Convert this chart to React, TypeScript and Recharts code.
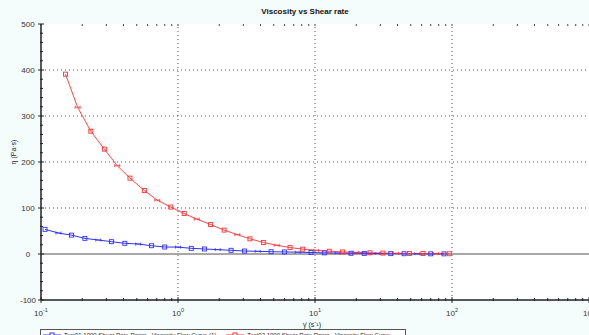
import {
  LineChart,
  Line,
  XAxis,
  YAxis,
  ReferenceLine,
  ReferenceArea,
} from 'recharts';

// Shear rate (1/s) and viscosity (Pa·s)
const SHEAR_BLUE = [
  0.107, 0.134, 0.167, 0.209, 0.262, 0.327, 0.409, 0.512, 0.64, 0.8, 1.0, 1.25, 1.56, 1.95, 2.44,
  3.06, 3.82, 4.78, 5.98, 7.48, 9.35, 11.7, 14.6, 18.3, 22.9, 28.6, 35.7, 44.7, 55.8, 69.9, 87.4,
];
const VISC_BLUE = [
  53.6, 45.6, 41, 34, 30.4, 26.8, 23.2, 21.7, 18, 15.2, 15, 12.3, 10.9, 9.5, 8, 6.5, 5.8, 5, 4.5,
  4, 3.2, 2.5, 2, 1.6, 1.3, 1.0, 0.8, 0.6, 0.5, 0.4, 0.3,
];
const SHEAR_RED = [
  0.151, 0.185, 0.231, 0.29, 0.36, 0.446, 0.568, 0.706, 0.885, 1.11, 1.37, 1.73, 2.17, 2.71, 3.35,
  4.2, 5.25, 6.57, 8.13, 10.2, 12.7, 15.9, 19.9, 25.2, 31.3, 39.0, 48.9, 61.4, 76.4, 95.5,
];
const VISC_RED = [
  391, 319, 267, 228, 192, 165, 138, 117, 102, 88, 76, 64, 52, 42, 33, 25, 19, 14, 10.5, 8, 6, 4.5,
  3.5, 2.6, 2, 1.5, 1.2, 1, 0.8, 0.6,
];

const SERIES_NAMES = [
  'Test01 1000 Shear Rate Ramp - Viscosity Flow Curve (1)',
  'Test02 1000 Shear Rate Ramp - Viscosity Flow Curve',
];

const X_MAJOR = [0.1, 1, 10, 100, 1000];
const X_EXP = ['-1', '0', '1', '2', '3'];
const Y_MAJOR = [-100, 0, 100, 200, 300, 400, 500];

const BLUE = '#3030ff';
const RED = '#ff3030';
const FONT = '"Liberation Sans", Arial, sans-serif';

// minor log ticks 2..9 per decade
const X_TICKS: number[] = [];
for (let d = 0; d < 4; d++) {
  const base = X_MAJOR[d];
  X_TICKS.push(base);
  for (let k = 2; k <= 9; k++) X_TICKS.push(+(base * k).toPrecision(3));
}
X_TICKS.push(1000);
const Y_TICKS: number[] = [];
for (let v = -100; v <= 500; v += 20) Y_TICKS.push(v);

const blueData = SHEAR_BLUE.map((x, i) => ({ x, y: VISC_BLUE[i] }));
const redData = SHEAR_RED.map((x, i) => ({ x, y: VISC_RED[i] }));

const isMajorX = (v: number) => X_MAJOR.includes(v);

function BottomTick(props: any) {
  const { x, y, payload } = props;
  const v = payload.value;
  const major = isMajorX(v);
  const idx = X_MAJOR.indexOf(v);
  return (
    <g>
      <line x1={x} x2={x} y1={y - (major ? 3 : 2)} y2={y + (major ? 3 : 1)} stroke="#222" />
      {major && (
        <text x={x} y={y + 16} textAnchor="middle" fontSize={8} fill="#333" fontFamily={FONT}>
          10
          <tspan dy={-4} fontSize={5.5}>
            {X_EXP[idx]}
          </tspan>
        </text>
      )}
    </g>
  );
}

function TopTick(props: any) {
  const { x, y } = props;
  return <line x1={x} x2={x} y1={y} y2={y + 2} stroke="#444" />;
}

function LeftTick(props: any) {
  const { x, y, payload } = props;
  const major = payload.value % 100 === 0;
  return (
    <g>
      <line x1={x - (major ? 3 : 1)} x2={x + (major ? 3 : 2)} y1={y} y2={y} stroke="#222" />
      {major && (
        <text x={28} y={y + 3} textAnchor="middle" fontSize={8} fill="#333" fontFamily={FONT}>
          {payload.value}
        </text>
      )}
    </g>
  );
}

function RightTick(props: any) {
  const { x, y } = props;
  return <line x1={x - 2} x2={x} y1={y} y2={y} stroke="#444" />;
}

const makeDot = (color: string) => (props: any) => {
  const { cx, cy, index } = props;
  if (cx == null || cy == null) return <g key={index} />;
  if (index % 3 === 1) {
    return (
      <g key={index} stroke={color} strokeWidth={0.8}>
        <line x1={cx - 2.5} x2={cx + 2.5} y1={cy} y2={cy} />
        <line x1={cx - 2.5} x2={cx - 2.5} y1={cy - 1.5} y2={cy + 1.5} />
        <line x1={cx + 2.5} x2={cx + 2.5} y1={cy - 1.5} y2={cy + 1.5} />
      </g>
    );
  }
  return (
    <rect
      key={index}
      x={cx - 2}
      y={cy - 2}
      width={4}
      height={4}
      fill="none"
      stroke={color}
      strokeWidth={0.9}
    />
  );
};

function LegendBox() {
  const item = (color: string, label: string) => (
    <div style={{ display: 'flex', alignItems: 'center', marginRight: 10 }}>
      <svg width={18} height={8}>
        <line x1={0} x2={18} y1={4} y2={4} stroke={color} />
        <rect x={7} y={2} width={4} height={4} fill="#fff" stroke={color} />
      </svg>
      <span style={{ marginLeft: 3 }}>{label}</span>
    </div>
  );
  return (
    <div
      style={{
        position: 'absolute',
        left: 40,
        top: 329,
        width: 366,
        height: 12,
        border: '1px solid #555',
        background: '#fff',
        display: 'flex',
        alignItems: 'center',
        paddingLeft: 2,
        fontSize: 6,
        fontFamily: FONT,
        color: '#222',
        whiteSpace: 'nowrap',
        overflow: 'hidden',
        boxSizing: 'border-box',
      }}
    >
      {item(BLUE, SERIES_NAMES[0])}
      {item(RED, SERIES_NAMES[1])}
    </div>
  );
}

export default function App() {
  return (
    <div
      style={{
        position: 'absolute',
        left: 0,
        top: 0,
        width: 589,
        height: 335,
        overflow: 'hidden',
        background: '#f4fcfc',
        fontFamily: FONT,
      }}
    >
      <div
        style={{
          position: 'absolute',
          left: 0,
          width: 610,
          top: 7,
          textAlign: 'center',
          fontSize: 8,
          fontWeight: 'bold',
          color: '#111',
        }}
      >
        Viscosity vs Shear rate
      </div>
      <div
        style={{
          position: 'absolute',
          left: 13,
          top: 152,
          transform: 'translate(-50%, -50%) rotate(-90deg)',
          fontSize: 7,
          color: '#222',
          whiteSpace: 'nowrap',
        }}
      >
        η (Pa·s)
      </div>
      <div
        style={{
          position: 'absolute',
          left: 312,
          top: 320,
          transform: 'translateX(-50%)',
          fontSize: 7,
          color: '#222',
          whiteSpace: 'nowrap',
        }}
      >
        γ̇ (s⁻¹)
      </div>
      <div style={{ position: 'absolute', left: 0, top: 0 }}>
        <LineChart width={589} height={335} margin={{ top: 0, right: 0, bottom: 0, left: 0 }}>
          <XAxis
            dataKey="x"
            type="number"
            scale="log"
            domain={[0.1, 1000]}
            allowDataOverflow
            ticks={X_TICKS}
            interval={0}
            height={35}
            tickSize={0}
            tickMargin={0}
            tickLine={false}
            axisLine={{ stroke: '#222', strokeWidth: 1.5 }}
            tick={<BottomTick />}
          />
          <XAxis
            xAxisId="top"
            orientation="top"
            dataKey="x"
            type="number"
            scale="log"
            domain={[0.1, 1000]}
            allowDataOverflow
            ticks={X_TICKS}
            interval={0}
            height={24}
            tickSize={0}
            tickMargin={0}
            tickLine={false}
            axisLine={false}
            tick={<TopTick />}
          />
          <YAxis
            type="number"
            domain={[-100, 500]}
            allowDataOverflow
            ticks={Y_TICKS}
            interval={0}
            width={41}
            tickSize={0}
            tickMargin={0}
            tickLine={false}
            axisLine={{ stroke: '#222', strokeWidth: 1.5 }}
            tick={<LeftTick />}
          />
          <YAxis
            yAxisId="r"
            orientation="right"
            type="number"
            domain={[-100, 500]}
            allowDataOverflow
            ticks={Y_TICKS}
            interval={0}
            width={0}
            tickSize={0}
            tickMargin={0}
            tickLine={false}
            axisLine={false}
            tick={<RightTick />}
          />
          <ReferenceArea
            x1={0.1}
            x2={1000}
            y1={-100}
            y2={500}
            fill="#ffffff"
            fillOpacity={1}
            stroke="none"
          />
          {X_MAJOR.slice(1, 4).map((v) => (
            <ReferenceLine key={'gx' + v} x={v} stroke="#555" strokeDasharray="1 3" />
          ))}
          {Y_MAJOR.filter((v) => v !== 0 && v !== -100 && v !== 500).map((v) => (
            <ReferenceLine key={'gy' + v} y={v} stroke="#555" strokeDasharray="1 3" />
          ))}
          <ReferenceLine y={0} stroke="#8a8a8a" strokeWidth={1.5} />
          <Line
            data={blueData}
            dataKey="y"
            type="linear"
            stroke={BLUE}
            strokeWidth={1}
            dot={makeDot(BLUE)}
            activeDot={false}
            isAnimationActive={false}
          />
          <Line
            data={redData}
            dataKey="y"
            type="linear"
            stroke={RED}
            strokeWidth={0.9}
            dot={makeDot(RED)}
            activeDot={false}
            isAnimationActive={false}
          />
        </LineChart>
      </div>
      <LegendBox />
    </div>
  );
}
